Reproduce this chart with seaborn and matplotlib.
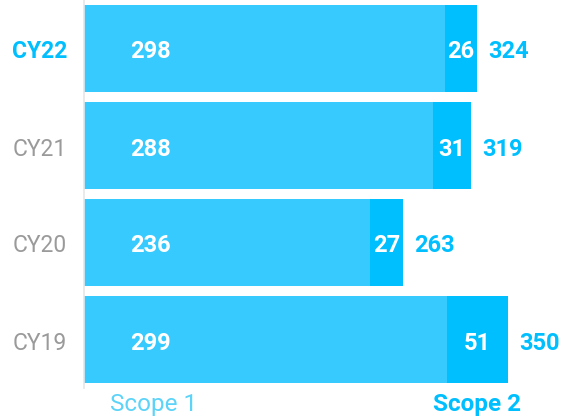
import matplotlib
matplotlib.use("Agg")
import matplotlib.pyplot as plt
import matplotlib.transforms as mtransforms
import seaborn as sns
import pandas as pd

years = ["CY22", "CY21", "CY20", "CY19"]
scope1 = [298, 288, 236, 299]
scope2 = [26, 31, 27, 51]
totals = [324, 319, 263, 350]

C1 = "#36CAFF"
C2 = "#00BFFF"
GRAY = "#9A9A9A"

sns.set_theme(style="white")
plt.rcParams["font.family"] = ["Roboto", "DejaVu Sans"]

df = pd.DataFrame({"year": years, "scope1": scope1, "scope2": scope2, "total": totals})

fig = plt.figure(figsize=(5.64, 4.17), dpi=100)
ax = fig.add_axes([84 / 564, 1 - 388 / 417, 479 / 564, 388 / 417])

sns.barplot(data=df, x="total", y="year", orient="h", color=C2, width=0.887,
            saturation=1, ax=ax, order=years, linewidth=0, edgecolor="none")
sns.barplot(data=df, x="scope1", y="year", orient="h", color=C1, width=0.887,
            saturation=1, ax=ax, order=years, linewidth=0, edgecolor="none")

ax.set_xlim(0, 395)
ax.set_ylim(3.5, -0.5)
ax.set_xlabel("")
ax.set_ylabel("")
ax.set_xticks([])
ax.set_yticks([])
for s in ["top", "right", "bottom"]:
    ax.spines[s].set_visible(False)
ax.spines["left"].set_color("#E6E6E6")
ax.spines["left"].set_linewidth(1.2)

dy = -3.5
lab_tr = mtransforms.offset_copy(ax.transData, fig=fig, x=-17, y=dy, units="dots")
for i, yr in enumerate(years):
    if i == 0:
        ax.text(0, i, yr, color=C2, fontweight="bold", fontsize=16.5, ha="right",
                va="center", transform=lab_tr)
    else:
        ax.text(0, i, yr, color=GRAY, fontsize=16.5, ha="right", va="center",
                transform=lab_tr)

in_tr = mtransforms.offset_copy(ax.transData, fig=fig, x=0, y=dy, units="dots")
off = mtransforms.offset_copy(ax.transData, fig=fig, x=11, y=dy, units="dots")
for i in range(len(years)):
    ax.text(38, i, str(scope1[i]), color="white", fontweight="bold", fontsize=17,
            ha="left", va="center", transform=in_tr)
    ax.text(scope1[i] + scope2[i] / 2, i, str(scope2[i]), color="white",
            fontweight="bold", fontsize=17, ha="center", va="center", transform=in_tr)
    ax.text(totals[i], i, str(totals[i]), color=C2, fontweight="bold", fontsize=17,
            ha="left", va="center", transform=off)

fig.text(110 / 564, 1 - 404 / 417, "Scope 1", color="#5CD3F8", fontsize=17.5,
         ha="left", va="center")
fig.text(477 / 564, 1 - 404 / 417, "Scope 2", color=C2, fontsize=17.5,
         fontweight="semibold", ha="center", va="center")

fig.savefig("out.png", dpi=100)
